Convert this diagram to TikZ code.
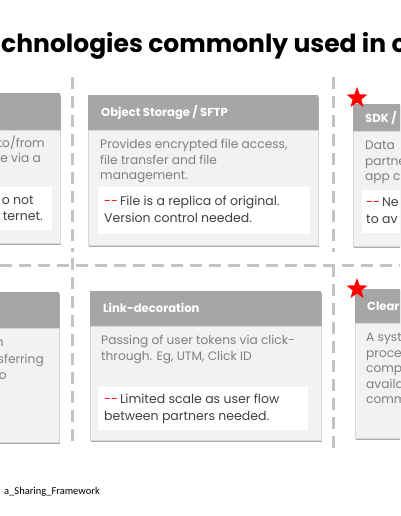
\documentclass[tikz,border=0pt]{standalone}
\usepackage{fontspec}
\setmainfont{Poppins}
\newfontfamily\footfont{Carlito}
\usetikzlibrary{shapes.geometric,shadows}
\definecolor{hdrgray}{HTML}{A6A6A6}
\definecolor{bodygray}{HTML}{F2F2F2}
\definecolor{edgegray}{HTML}{D6D6D6}
\definecolor{dashgray}{HTML}{C4C4C4}
\definecolor{txtgray}{HTML}{7F7F7F}
\definecolor{notegray}{HTML}{404040}
\tikzset{
  cardshadow/.style = {drop shadow={shadow xshift=1.2pt, shadow yshift=-1.8pt,
    fill=black!55, opacity=.6}},
  hdr/.style  = {fill=hdrgray, inner sep=0pt, anchor=north west, cardshadow},
  bdy/.style  = {fill=bodygray, draw=edgegray, inner sep=0pt, anchor=north west, cardshadow},
  notebox/.style = {fill=white, inner sep=0pt, anchor=north west},
  htxt/.style = {text=white, font=\bfseries\fontsize{11.6}{14}\selectfont, anchor=west, inner sep=0pt},
  btxt/.style = {text=txtgray, font=\fontsize{12.2}{15.5}\selectfont, align=left, anchor=north west, inner sep=0pt},
  ntxt/.style = {text=notegray, font=\fontsize{12.5}{17}\selectfont, align=left, anchor=north west, inner sep=0pt},
  sep/.style  = {draw=dashgray, line width=3pt, dash pattern=on 12pt off 7pt},
  flag/.style = {star, star points=5, star point ratio=2.4, fill=red, inner sep=0pt, minimum size=22pt}
}
\newcommand{\reddash}{\textcolor{red}{-{}-}\,}

\begin{document}
\begin{tikzpicture}[x=1pt,y=-1pt]
\useasboundingbox (0,0) rectangle (400,516);
\clip (0,0) rectangle (400,516);

% title, cut on both sides
\node[anchor=base west, inner sep=0pt, font=\bfseries\fontsize{25}{30}\selectfont] (title)
  at (1,53) {chnologies commonly used in c};

% dashed grid
\draw[sep] (72,77) -- (72,252);
\draw[sep] (333,77) -- (333,252);
\draw[sep] (0,265) -- (400,265);
\draw[sep] (72,258) -- (72,448);
\draw[sep] (333,265) -- (333,448);

% top left card (cut)
\node[hdr, minimum width=250pt, minimum height=37pt] (lth) at (-190,93) {};
\node[bdy, minimum width=250pt, minimum height=113pt] (ltb) at (-190,130) {};
\node[notebox, minimum width=242pt, minimum height=43pt] (ltn) at (-190,187) {};
\node[btxt, anchor=base east] (lt1) at (45,147) {to/from};
\node[btxt, anchor=base east] (lt2) at (41,162) {e via a};
\node[ntxt, anchor=base east] (lt3) at (34,204) {o not};
\node[ntxt, anchor=base east] (lt4) at (43,220) {ternet.};

% object storage
\node[hdr, minimum width=230pt, minimum height=35pt] (osh) at (88,95) {};
\node[htxt] (ost) at (101,113) {Object Storage / SFTP};
\node[bdy, minimum width=230pt, minimum height=115pt] (osb) at (88,130) {};
\node[btxt] (osx) at (100,139) {Provides encrypted file access,\\file transfer and file\\management.};
\node[notebox, minimum width=212pt, minimum height=47pt] (osn) at (98,187) {};
\node[ntxt] (osm) at (104,196) {\reddash File is a replica of original.\\Version control needed.};

% sdk (cut)
\node[hdr, minimum width=250pt, minimum height=27pt] (sdh) at (353,104) {};
\node[htxt] (sdt) at (365,118) {SDK /};
\node[bdy, minimum width=250pt, minimum height=115pt] (sdb) at (353,131) {};
\node[btxt] (sdx) at (365,141) {Data\\partne\\app c};
\node[notebox, minimum width=240pt, minimum height=43pt] (sdn) at (362,190) {};
\node[ntxt] (sdm) at (366,198) {\reddash Ne\\to av};
\node[flag] (sds) at (357,98) {};

% bottom left card (cut)
\node[hdr, minimum width=249pt, minimum height=36pt] (lbh) at (-190,292) {};
\node[bdy, minimum width=249pt, minimum height=114pt] (lbb) at (-190,328) {};
\node[btxt, anchor=base east] (lb1) at (4,346) {n};
\node[btxt, anchor=base east] (lb2) at (44,363) {sferring};
\node[btxt, anchor=base east] (lb3) at (7,379) {o};

% link decoration
\node[hdr, minimum width=231pt, minimum height=35pt] (ldh) at (90,291) {};
\node[htxt] (ldt) at (103,308) {Link-decoration};
\node[bdy, minimum width=231pt, minimum height=114pt] (ldb) at (90,326) {};
\node[btxt] (ldx) at (101,335) {Passing of user tokens via click-\\through. Eg, UTM, Click ID};
\node[notebox, minimum width=210pt, minimum height=43pt] (ldn) at (98,387) {};
\node[ntxt] (ldm) at (104,394) {\reddash Limited scale as user flow\\between partners needed.};

% clean room (cut)
\node[hdr, minimum width=250pt, minimum height=34pt] (crh) at (355,289) {};
\node[htxt] (crt) at (367,306) {Clear};
\node[bdy, minimum width=250pt, minimum height=115pt] (crb) at (355,323) {};
\node[btxt] (crx) at (366,333) {A syst\\proce\\comp\\availa\\comm};
\node[flag] (crs) at (357,289) {};

% source line
\node[anchor=base east, inner sep=0pt, font=\footfont\fontsize{10.5}{12}\selectfont] (src)
  at (100,494) {a\_Sharing\_Framework};
\end{tikzpicture}
\end{document}
